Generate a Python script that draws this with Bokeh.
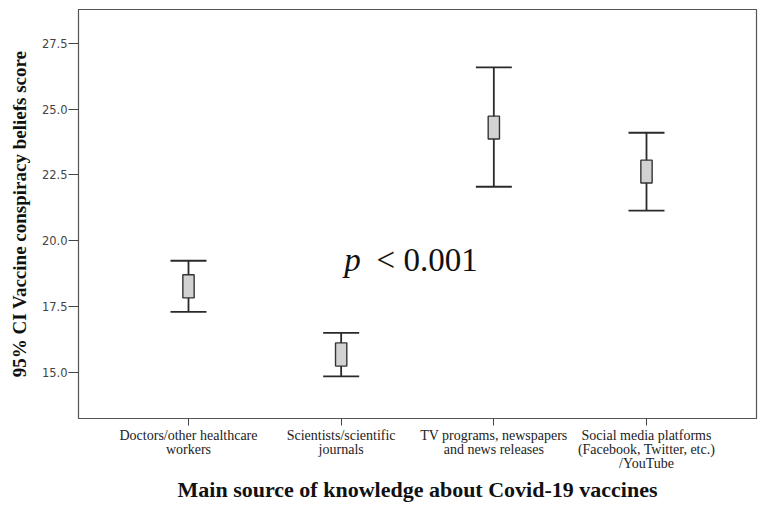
from bokeh.plotting import figure
from bokeh.models import (ColumnDataSource, Range1d, FixedTicker, NumeralTickFormatter,
                          Whisker, TeeHead, Label)
from bokeh.embed import file_html
from bokeh.resources import INLINE

# ---- data ----
categories = ["Doctors/other healthcare\nworkers",
              "Scientists/scientific\njournals",
              "TV programs, newspapers\nand news releases",
              "Social media platforms\n(Facebook, Twitter, etc.)\n/YouTube"]
ci_low = [17.30, 14.85, 22.05, 21.14]
ci_high = [19.24, 16.50, 26.58, 24.10]
box_low = [17.83, 15.24, 23.86, 22.19]
box_high = [18.71, 16.12, 24.73, 23.06]
y_ticks = [15.0, 17.5, 20.0, 22.5, 25.0, 27.5]
p_text_italic = "p"
p_text_rest = "< 0.001"
x_title = "Main source of knowledge about Covid-19 vaccines"
y_title = "95% CI Vaccine conspiracy beliefs score"

xs = list(range(1, len(categories) + 1))
src = ColumnDataSource(dict(x=xs, lo=ci_low, hi=ci_high, blo=box_low, bhi=box_high))

SERIF = "Liberation Serif"
DARK = "#2a2a2a"

p = figure(width=762, height=505, output_backend="svg", toolbar_location=None,
           x_range=Range1d(0.2795, 4.7205), y_range=Range1d(13.25, 28.78),
           min_border_left=78, min_border_right=6, min_border_top=9, min_border_bottom=87)
p.background_fill_color = "white"
p.border_fill_color = "white"
p.outline_line_color = "#555555"
p.outline_line_width = 1.2
p.xgrid.visible = False
p.ygrid.visible = False

# whiskers (95% CI)
w = Whisker(source=src, base="x", upper="hi", lower="lo", dimension="height",
            line_color=DARK, line_width=1.8,
            upper_head=TeeHead(size=36, line_color=DARK, line_width=1.8),
            lower_head=TeeHead(size=36, line_color=DARK, line_width=1.8))
p.add_layout(w)

# boxes
p.vbar(x="x", top="bhi", bottom="blo", width=0.074, source=src,
       fill_color="#d2d2d2", line_color="#333333", line_width=1.4)

# p-value annotation
p.add_layout(Label(x=2.02, y=18.60, text=p_text_italic, text_font=SERIF,
                   text_font_style="italic", text_font_size="33px", text_color="#111111"))
p.add_layout(Label(x=2.232, y=18.60, text=p_text_rest, text_font=SERIF,
                   text_font_size="33px", text_color="#111111"))

# y axis
ya = p.yaxis[0]
ya.ticker = FixedTicker(ticks=y_ticks)
ya.formatter = NumeralTickFormatter(format="0.0")
ya.minor_tick_line_color = None
ya.major_tick_out = 10
ya.major_tick_in = 0
ya.major_tick_line_color = "#444444"
ya.axis_line_color = "#555555"
ya.major_label_text_font = "DejaVu Sans"
ya.major_label_text_font_size = "11.5px"
ya.major_label_text_color = "#444444"
ya.major_label_standoff = 1
ya.axis_label = y_title
ya.axis_label_text_font = SERIF
ya.axis_label_text_font_style = "bold"
ya.axis_label_text_font_size = "19px"
ya.axis_label_text_color = "#111111"
ya.axis_label_standoff = 9

# x axis
xa = p.xaxis[0]
xa.ticker = FixedTicker(ticks=xs)
xa.major_label_overrides = {x: c for x, c in zip(xs, categories)}
xa.minor_tick_line_color = None
xa.major_tick_out = 7
xa.major_tick_in = 0
xa.major_tick_line_color = "#444444"
xa.axis_line_color = "#555555"
xa.major_label_text_font = SERIF
xa.major_label_text_font_size = "14px"
xa.major_label_text_line_height = 0.95
xa.major_label_text_color = "#222222"
xa.major_label_standoff = 2
xa.axis_label = x_title
xa.axis_label_text_font = SERIF
xa.axis_label_text_font_style = "bold"
xa.axis_label_text_font_size = "22px"
xa.axis_label_text_color = "#111111"
xa.axis_label_standoff = 3

open("out.html", "w").write(file_html(p, INLINE))
